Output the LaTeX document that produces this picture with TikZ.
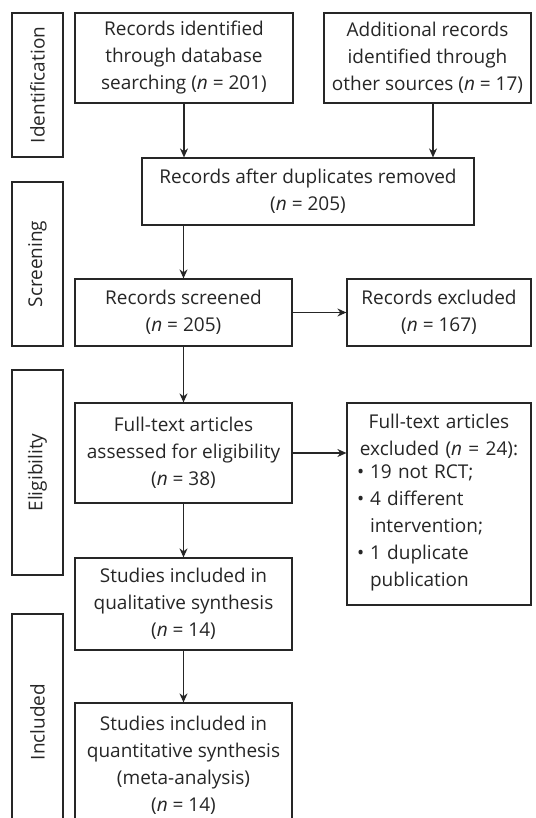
\documentclass[tikz,border=0pt]{standalone}
\usepackage{fontspec}
\setmainfont{Open Sans}
\usetikzlibrary{arrows.meta}

\begin{document}
\begin{tikzpicture}[x=1pt, y=-1pt,
        box/.style={draw=black!85, line width=1.2pt, align=center, inner sep=0pt,
            text=black!85, font=\fontsize{19}{27}\selectfont},
        sidebox/.style={draw=black!85, line width=1.2pt, rotate=90, minimum height=51pt,
            inner sep=0pt, text=black!85, font=\fontsize{19}{27}\selectfont},
        arr/.style={-{Stealth[length=9pt, width=8pt]}, line width=1.1pt, draw=black!85}]

        % Frame
        \useasboundingbox (0,0) rectangle (535,818);
        \fill[white] (0,0) rectangle (535,818);
        \clip (0,0) rectangle (535,818);

        % Side labels
        \node[sidebox, minimum width=144pt] (ident) at (37.5,85) {Identification};
        \node[sidebox, minimum width=164pt] (screen) at (37.5,264) {Screening};
        \node[sidebox, minimum width=205pt] (elig) at (37.5,472.5) {Eligibility};
        \node[sidebox, minimum width=216pt] (incl) at (37.5,722) {Included};

        % Identification
        \node[box, minimum width=218pt, minimum height=90pt] (dbrec) at (184,58)
            {Records identified\\through database\\searching (\textit{n} = 201)};
        \node[box, minimum width=207pt, minimum height=90pt] (otherrec) at (427.5,58)
            {Additional records\\identified through\\other sources (\textit{n} = 17)};
        \node[box, minimum width=332pt, minimum height=67pt] (dedup) at (308,191.5)
            {Records after duplicates removed\\(\textit{n} = 205)};

        % Screening
        \node[box, minimum width=217pt, minimum height=67pt] (screened) at (183.5,312.5)
            {Records screened\\(\textit{n} = 205)};
        \node[box, minimum width=184pt, minimum height=67pt] (excluded) at (439,312.5)
            {Records excluded\\(\textit{n} = 167)};

        % Eligibility
        \node[box, align=left, text width=164pt, inner xsep=10pt, minimum height=202pt] (ftexcl) at (439,504)
            {{\centering Full-text articles\\excluded (\textit{n} = 24):\par}
             \begin{tabular}{@{}p{13pt}@{}l@{}}
             \textbullet & 19 not RCT;\\
             \textbullet & 4 different\\
                         & intervention;\\
             \textbullet & 1 duplicate\\
                         & publication
             \end{tabular}};
        \node[box, minimum width=217pt, minimum height=100pt] (fulltext) at (183.5,453)
            {Full-text articles\\assessed for eligibility\\(\textit{n} = 38)};

        % Included
        \node[box, minimum width=217pt, minimum height=92pt] (qual) at (183.5,604)
            {Studies included in\\qualitative synthesis\\(\textit{n} = 14)};
        \node[box, minimum width=217pt, minimum height=124pt] (quant) at (183.5,765)
            {Studies included in\\quantitative synthesis\\(meta-analysis)\\(\textit{n} = 14)};

        % Arrows
        \draw[arr] (dbrec.south) -- (dbrec.south |- dedup.north);
        \draw[arr] ([xshift=5.5pt]otherrec.south) -- ([xshift=5.5pt]otherrec.south |- dedup.north);
        \draw[arr] (screened.north |- dedup.south) -- (screened.north);
        \draw[arr] (screened.east) -- (excluded.west);
        \draw[arr] (screened.south) -- (fulltext.north);
        \draw[arr] (fulltext.east) -- (fulltext.east -| ftexcl.west);
        \draw[arr] (fulltext.south) -- (qual.north);
        \draw[arr] (qual.south) -- (quant.north);

    \end{tikzpicture}
\end{document}
